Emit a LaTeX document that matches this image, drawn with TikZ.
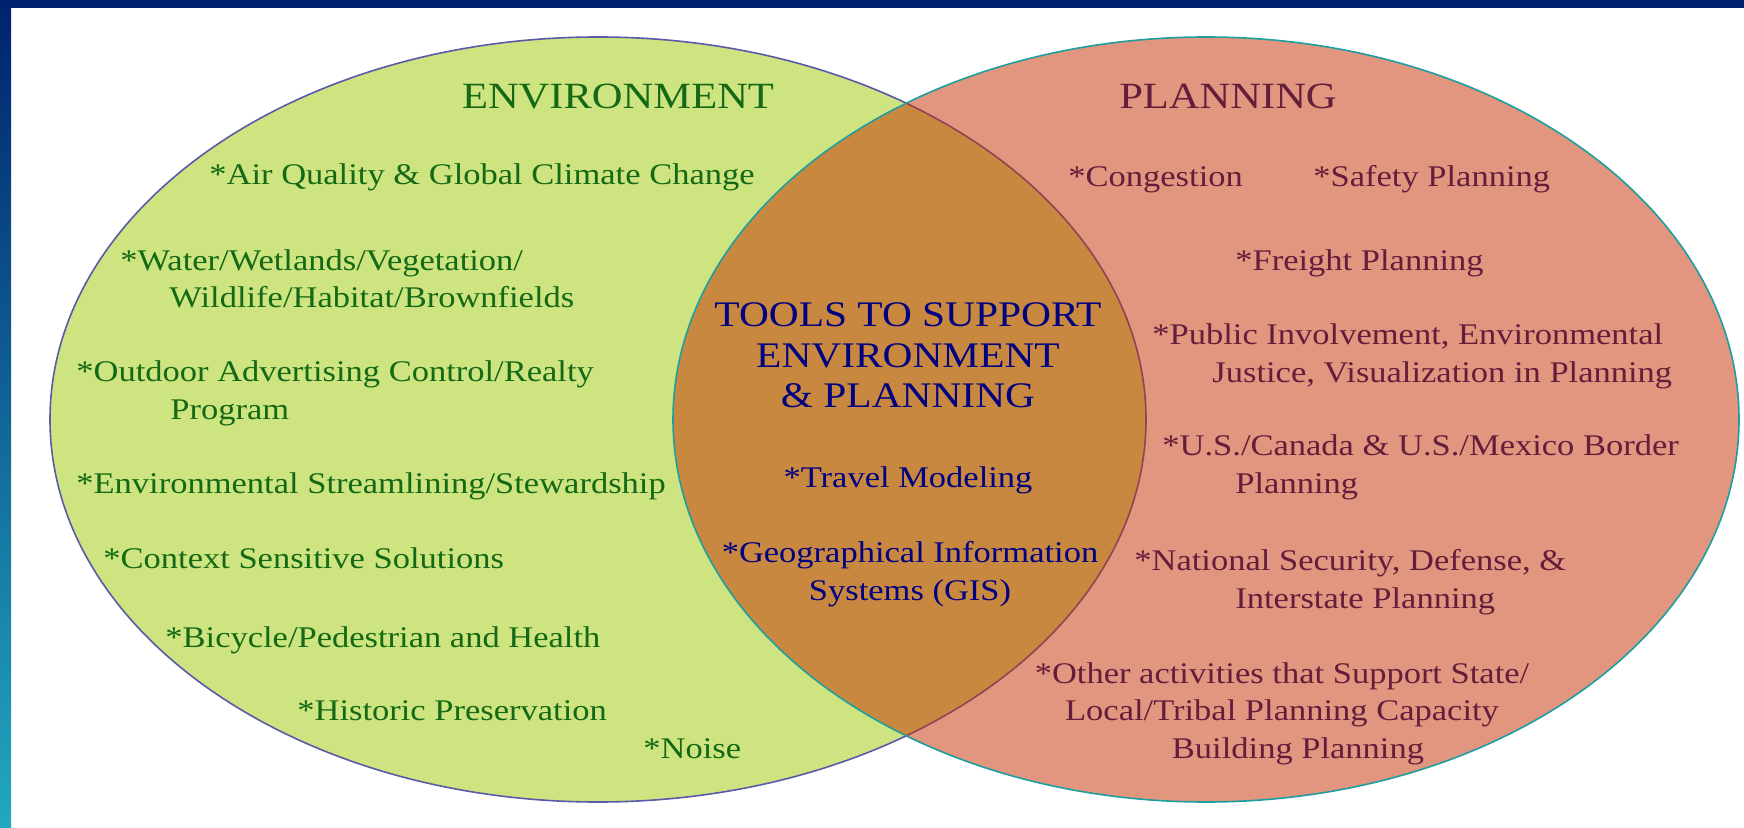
\documentclass[tikz,border=0pt]{standalone}
\usepackage{fontspec}
\setmainfont{Liberation Serif}[FakeStretch=1.15]
\definecolor{barnavy}{RGB}{0,34,110}
\definecolor{barblue}{RGB}{0,51,153}
\definecolor{barteal}{RGB}{34,168,192}
\definecolor{envfill}{RGB}{205,228,128}
\definecolor{envline}{RGB}{90,90,168}
\definecolor{planfill}{RGB}{199,45,0}
\definecolor{planline}{RGB}{30,158,158}
\definecolor{envtext}{RGB}{20,105,20}
\definecolor{plantext}{RGB}{100,30,60}
\definecolor{tooltext}{RGB}{0,0,128}
\begin{document}
\begin{tikzpicture}[x=0.5pt,y=-0.5pt,
  item/.style={anchor=base west, inner sep=0pt, align=left, font=\fontsize{15}{18.75}\selectfont},
  envitem/.style={item, text=envtext},
  planitem/.style={item, text=plantext},
  toolitem/.style={item, anchor=base, align=center, text=tooltext},
  heading/.style={anchor=base, inner sep=0pt, align=center, font=\fontsize{18}{20.25}\selectfont}]
\useasboundingbox (0,0) rectangle (1744,828);
\fill[white] (0,0) rectangle (1744,828);
\fill[barnavy] (0,0) rectangle (1744,8);
\shade[top color=barnavy, middle color=barblue, bottom color=barteal] (0,0) rectangle (11,828);
\draw[envline, line width=0.8pt, fill=envfill] (598,419.5) ellipse [x radius=548, y radius=382.5];
\fill[planfill, fill opacity=0.5] (1206,419.5) ellipse [x radius=533, y radius=382.5];
\draw[planline, line width=0.8pt] (1206,419.5) ellipse [x radius=533, y radius=382.5];

\node[heading, text=envtext, font=\fontsize{18.5}{20.25}\selectfont] (envtitle) at (618,109) {ENVIRONMENT};
\node[heading, text=plantext, font=\fontsize{18.5}{20.25}\selectfont] (plantitle) at (1228,109) {PLANNING};
\node[heading, text=tooltext] (tooltitle) at (908,408) {TOOLS TO SUPPORT\\ ENVIRONMENT\\ \& PLANNING};

\node[envitem] (air) at (209,185) {*Air Quality \& Global Climate Change};
\node[envitem] (water) at (120,308) {*Water/Wetlands/Vegetation/\\ \hspace*{24.5pt}Wildlife/Habitat/Brownfields};
\node[envitem] (outdoor) at (76,419) {*Outdoor Advertising Control/Realty\\ \hspace*{47pt}Program};
\node[envitem] (stream) at (76,493) {*Environmental Streamlining/Stewardship};
\node[envitem] (context) at (103,568) {*Context Sensitive Solutions};
\node[envitem] (bicycle) at (165,647) {*Bicycle/Pedestrian and Health};
\node[envitem] (historic) at (297,720) {*Historic Preservation};
\node[envitem] (noise) at (643,758) {*Noise};

\node[toolitem] (travel) at (908,487) {*Travel Modeling};
\node[toolitem] (gis) at (910,600) {*Geographical Information\\ Systems (GIS)};

\node[planitem] (congestion) at (1068,187) {*Congestion};
\node[planitem] (safety) at (1313,187) {*Safety Planning};
\node[planitem] (freight) at (1235,271) {*Freight Planning};
\node[planitem] (public) at (1152,382) {*Public Involvement, Environmental\\ \hspace*{30pt}Justice, Visualization in Planning};
\node[planitem] (border) at (1162,493) {*U.S./Canada \& U.S./Mexico Border\\ \hspace*{36.5pt}Planning};
\node[planitem] (security) at (1134,608) {*National Security, Defense, \&\\ \hspace*{50.5pt}Interstate Planning};
\node[planitem, anchor=base, align=center] (other) at (1282,758) {*Other activities that Support State/\\ Local/Tribal Planning Capacity\\ \hspace*{16pt}Building Planning};
\end{tikzpicture}
\end{document}
